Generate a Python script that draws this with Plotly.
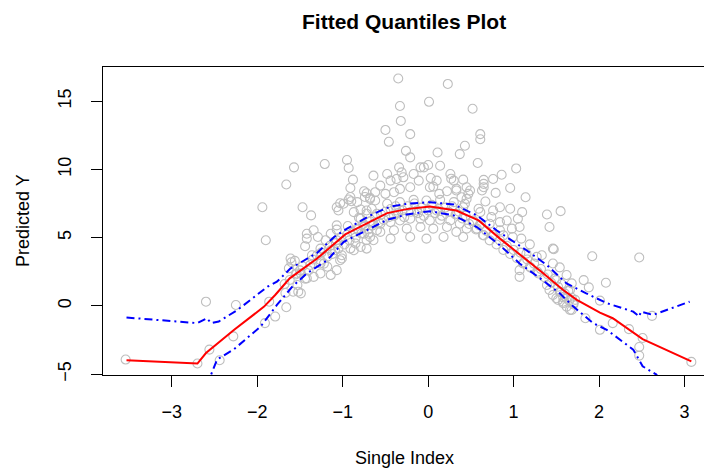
import plotly.graph_objects as go

# ---- scatter data (Single Index, Predicted Y) ----
pts_x = [
 -3.54,-2.70,-2.60,-2.56,-2.44,-2.25,-2.28,-1.91,-1.79,-1.86,-1.66,-1.94,-1.90,-1.66,-1.57,-1.47,-1.37,-1.21,
 -0.95,-0.93,-0.88,-0.91,-0.50,-0.46,-0.35,-0.33,-0.32,-0.21,-0.26,-0.21,-0.34,0.01,0.23,0.52,0.61,0.61,0.43,
 0.37,0.11,0.58,0.14,0.00,-0.05,1.03,0.86,0.76,0.65,0.41,0.27,0.03,0.96,1.14,0.79,0.65,0.49,0.47,0.33,0.22,
 0.06,0.13,1.39,1.55,1.42,1.07,1.10,0.96,0.84,1.05,1.47,1.92,2.47,1.82,2.08,1.88,1.68,1.46,1.54,1.62,2.01,
 2.16,2.01,1.84,2.35,2.51,2.47,2.47,2.62,3.08,1.66,1.70,1.58,1.50,1.54,1.66,
 -0.75,-0.72,-0.68,-0.93,-0.90,-1.03,-1.07,-1.05,-0.79,-0.72,-0.81,-0.94,-1.07,-1.42,-1.29,-1.44,-1.20,-0.91,
 -0.79,-1.01,-1.61,-0.72,-0.70,-0.75,-1.14,
 -1.60,-1.56,-1.63,-1.54,-1.58,-1.52,-1.53,-1.67,
 -0.99,-0.91,-0.87,-0.79,-0.72,-0.66,-0.62,-0.74,-0.83,-1.42,-1.34,-1.07,-1.14,-1.07,-1.09,-1.01,-0.85,-0.75,
 -0.68,-0.64,-0.60,-0.64,-0.74,-0.83,-1.26,-1.36,-1.26,
 -0.64,-0.56,-0.44,-0.29,-0.31,-0.11,-0.21,-0.33,-0.40,-0.50,-0.68,0.02,0.33,0.39,0.30,0.26,0.45,
 -0.56,-0.44,-0.33,-0.21,-0.09,0.02,0.14,0.26,0.37,0.45,-0.56,-0.40,-0.25,-0.09,0.06,0.22,0.33,0.41,-0.44,
 -0.21,-0.02,0.18,-0.48,-0.33,-0.17,-0.02,0.14,0.30,0.41,-0.60,-0.37,-0.13,0.10,0.33,-0.62,-0.48,-0.37,
 -0.17,-0.09,0.10,
 0.65,0.63,0.67,0.45,0.43,0.59,0.61,0.76,0.98,0.84,0.92,0.74,0.72,0.84,0.88,0.99,1.09,0.53,0.57,0.65,
 1.19,1.46,1.27,1.33,1.15,1.11,1.19,1.29,1.39,1.42,1.46,1.52,1.58,1.62,1.72,1.07,1.07,1.50,
 -1.49,-1.26,-1.18,-1.14,-1.07,-0.87,-0.72,-1.03,-1.42,-1.34,-1.26,-1.49,
 1.55,1.60,1.65,1.70,1.58,1.68,
 -1.68,-1.62,-1.55,-1.50,-1.47,-1.44,-1.40,-1.38,-1.35,-1.30,-1.25,-1.22,-1.18,-1.15,-1.12,-1.08,-1.05,-1.02,
 -0.98,-0.95,-0.92,-0.88,-0.85,-0.82,-0.78,-0.76,-0.70,-0.68,-0.65,-0.62,-0.58,-0.55,-0.52,-0.50,-0.46,-0.44,
 -0.40,-0.38,-0.35,-0.30,-0.28,-0.24,-0.20,-0.16,-0.12,-0.08,-0.05,0.00,0.04,0.08,0.12,0.16,0.20,0.24,0.28,
 0.32,0.36,0.40,0.44,0.48,0.52,0.56,0.60,0.64,0.68,0.72,0.76,0.80,0.84,0.88,0.92,0.96,1.00,1.04,1.08,1.12,
 1.16,1.20,1.24,1.28,1.32,1.36,1.40,1.44,1.48,1.52,1.56,1.60,1.64,1.68,
]
pts_y = [
 -3.93,-4.22,0.31,-3.20,-3.98,0.07,-2.23,-1.26,-0.78,0.31,-0.10,7.23,4.81,8.89,10.15,7.23,6.63,10.39,
 10.69,10.10,9.25,8.64,12.89,12.02,16.66,14.64,13.55,12.58,11.36,10.88,10.15,14.95,16.26,14.44,12.58,12.21,11.73,
 11.12,11.24,10.47,10.27,10.32,10.15,10.07,9.61,9.30,9.23,9.25,9.32,9.37,8.64,7.96,8.28,8.69,8.45,8.21,8.58,8.40,
 8.74,8.21,6.70,6.94,5.78,5.78,6.87,7.12,7.23,6.39,4.15,3.64,3.55,1.89,1.70,1.36,1.65,3.11,2.82,2.26,0.39,
 -1.26,-1.75,-0.90,-1.70,-2.35,-3.01,-3.64,-0.73,-4.10,-0.29,0.20,0.63,0.56,1.04,1.17,
 8.40,8.25,7.92,7.79,7.67,7.52,7.23,6.99,7.06,6.99,6.46,5.85,5.59,4.93,5.05,4.37,4.81,4.20,
 4.32,3.71,3.47,4.81,5.29,5.78,4.08,
 3.20,3.30,2.75,2.38,1.04,1.04,1.53,0.95,
 7.48,7.98,6.87,6.39,6.75,7.12,7.72,7.98,7.60,5.29,5.54,5.90,5.29,4.81,4.08,3.47,4.57,5.29,
 5.05,4.81,5.54,6.02,5.90,5.66,4.20,3.71,3.35,
 9.54,8.81,9.18,9.42,9.78,9.18,8.69,8.57,8.33,8.21,7.84,8.69,8.45,7.96,9.18,9.66,8.69,
 6.02,6.14,6.26,6.39,6.39,6.26,6.31,6.26,6.02,5.66,5.42,5.54,5.66,5.78,5.66,5.78,5.42,5.05,4.93,
 5.05,4.93,5.05,7.48,7.60,7.77,7.72,7.77,7.60,7.23,6.75,6.99,6.99,6.99,6.75,8.33,9.66,9.30,
 9.66,10.15,9.18,
 8.94,8.45,7.65,7.84,7.48,7.12,6.87,6.99,5.66,6.14,6.26,6.51,6.02,5.54,5.17,5.05,4.93,6.26,5.66,5.17,
 4.51,4.20,3.59,3.71,3.83,3.11,2.87,2.38,1.53,1.17,0.80,0.44,0.31,-0.05,0.44,2.62,2.13,1.89,
 2.38,3.11,2.87,2.26,2.62,4.08,4.20,3.35,2.02,2.13,2.38,0.92,
 1.00,0.70,0.40,0.10,0.20,-0.30,
 1.6,1.9,2.3,2.6,2.9,2.0,2.6,3.0,3.4,3.7,3.9,3.1,3.6,4.4,3.8,4.6,4.2,5.0,
 4.5,5.2,4.8,5.4,5.0,5.6,5.3,6.0,5.6,6.2,5.9,6.5,6.1,6.7,6.3,6.9,6.5,7.1,
 6.6,7.3,6.8,7.0,6.5,7.3,6.9,7.5,6.8,7.2,6.6,7.0,7.4,6.8,7.1,6.6,7.2,6.9,7.3,
 6.7,6.9,6.4,6.6,6.0,6.2,5.6,5.9,5.2,5.5,4.8,5.2,4.5,4.8,4.1,4.4,3.8,4.1,3.5,3.9,3.2,
 3.4,2.8,3.1,2.5,2.7,2.1,2.3,1.7,2.0,1.4,1.6,0.9,1.1,0.6,
]

# ---- fitted quantile curves ----
med_x = [-3.53,-2.70,-2.60,-2.27,-1.92,-1.79,-1.62,-1.30,-0.97,-0.64,-0.48,-0.25,0.02,0.33,0.59,0.84,1.11,1.35,1.58,1.74,2.01,2.16,2.51,3.08]
med_y = [-3.98,-4.22,-3.45,-1.75,-0.05,0.80,2.02,3.47,5.24,6.31,6.80,7.09,7.28,6.99,6.26,4.93,3.59,2.38,1.17,0.44,-0.49,-0.90,-2.43,-4.06]

up_x = [-3.53,-2.70,-2.59,-2.54,-2.45,-2.23,-1.88,-1.77,-1.61,-1.30,-1.10,-0.95,-0.64,-0.44,-0.25,0.02,0.30,0.57,0.80,1.15,1.39,1.62,1.85,2.09,2.40,2.47,2.49,2.63,3.06]
up_y = [-0.85,-1.26,-0.90,-1.26,-1.14,-0.29,1.41,1.77,2.75,3.88,5.05,5.66,6.75,7.28,7.48,7.60,7.43,6.63,5.54,4.08,2.99,1.65,0.92,0.20,-0.42,-0.78,-0.42,-0.66,0.31]

lo_x = [-2.60,-2.54,-2.47,-2.27,-1.96,-1.77,-1.59,-1.42,-1.18,-0.99,-0.72,-0.48,-0.25,0.02,0.30,0.57,0.84,1.07,1.31,1.54,1.70,1.93,2.09,2.40,2.51,2.67,2.75]
lo_y = [-5.80,-5.03,-3.93,-3.16,-1.51,0.07,1.41,2.38,3.35,4.68,5.54,6.31,6.70,6.94,6.63,5.78,4.44,3.11,2.02,0.92,-0.05,-1.26,-1.75,-3.20,-4.42,-5.03,-5.80]

x_ticks = [-3, -2, -1, 0, 1, 2, 3]
y_ticks = [-5, 0, 5, 10, 15]

FONT = "Liberation Sans, Arial, sans-serif"

def lab(v):
    return ("\u2212" + str(-v)) if v < 0 else str(v)

fig = go.Figure()
fig.add_trace(go.Scatter(x=pts_x, y=pts_y, mode="markers",
                         marker=dict(symbol="circle-open", size=9, color="#BEBEBE",
                                     line=dict(width=1.1, color="#BEBEBE")),
                         cliponaxis=True, hoverinfo="skip"))
fig.add_trace(go.Scatter(x=med_x, y=med_y, mode="lines",
                         line=dict(color="#FF0000", width=2)))
fig.add_trace(go.Scatter(x=up_x, y=up_y, mode="lines",
                         line=dict(color="#0000FF", width=2, dash="8px,4px,2px,4px")))
fig.add_trace(go.Scatter(x=lo_x, y=lo_y, mode="lines",
                         line=dict(color="#0000FF", width=2, dash="8px,4px,2px,4px")))

W, H = 704, 468
L, R, T, B = 103, 0, 67, 93
pw, ph = W - L - R, H - T - B

fig.update_layout(
    width=W, height=H,
    margin=dict(l=L, r=R, t=T, b=B, pad=0),
    paper_bgcolor="white", plot_bgcolor="white",
    showlegend=False,
    font=dict(family=FONT, size=18, color="black"),
    xaxis=dict(range=[-3.805, 3.228], tickvals=x_ticks, ticktext=[lab(v) for v in x_ticks],
               ticks="outside", ticklen=11, tickwidth=1, tickcolor="black",
               showline=True, linecolor="black", linewidth=1, mirror=True,
               showgrid=False, zeroline=False, tickfont=dict(size=18),
               ticklabelstandoff=9),
    yaxis=dict(range=[-5.06, 17.50], tickvals=y_ticks, ticktext=[lab(v) for v in y_ticks],
               ticks="outside", ticklen=11, tickwidth=1, tickcolor="black",
               showline=True, linecolor="black", linewidth=1,
               showgrid=False, zeroline=False, tickangle=-90, tickfont=dict(size=18),
               ticklabelstandoff=13),
)

cx = (404 - L) / pw
fig.add_annotation(text="<b>Fitted Quantiles Plot</b>", xref="paper", yref="paper",
                   x=cx, y=1 + (T - 21) / ph, xanchor="center", yanchor="middle",
                   showarrow=False, font=dict(size=21, family=FONT))
fig.add_annotation(text="Single Index", xref="paper", yref="paper",
                   x=cx, y=-(458 - (T + ph)) / ph, xanchor="center", yanchor="middle",
                   showarrow=False, font=dict(size=18, family=FONT))
fig.add_annotation(text="Predicted Y", xref="paper", yref="paper",
                   x=-(L - 23) / pw, y=0.5, xanchor="center", yanchor="middle", textangle=-90,
                   showarrow=False, font=dict(size=18, family=FONT))

# remove the page's default 8px body margin so the figure fills the window exactly
fig.write_html("out.html", config={"displayModeBar": False},
               post_script="document.body.style.margin='0';document.body.style.overflow='hidden';")
